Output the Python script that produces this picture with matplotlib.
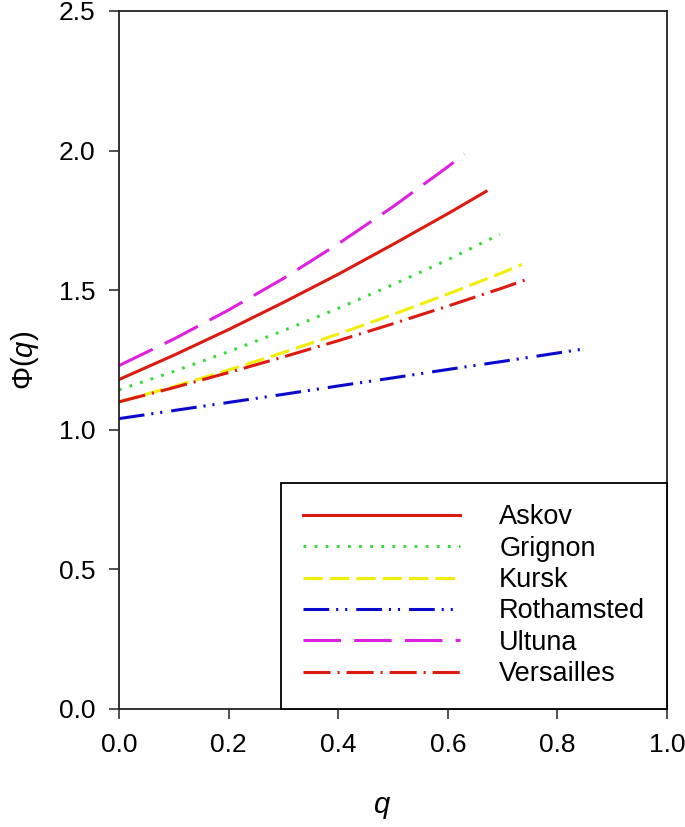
import matplotlib
matplotlib.use("Agg")
import matplotlib.pyplot as plt

plt.rcParams['font.family'] = ['Liberation Sans', 'DejaVu Sans']
plt.rcParams['mathtext.fontset'] = 'custom'
plt.rcParams['mathtext.rm'] = 'Liberation Sans'
plt.rcParams['mathtext.it'] = 'Liberation Sans:italic'
plt.rcParams['lines.scale_dashes'] = False

# --- data ---
q_askov = [0.0, 0.1, 0.2, 0.3, 0.4, 0.5, 0.6, 0.67]
phi_askov = [1.18, 1.267, 1.359, 1.456, 1.557, 1.664, 1.774, 1.854]

q_grignon = [0.0, 0.1, 0.2, 0.3, 0.4, 0.5, 0.6, 0.695]
phi_grignon = [1.143, 1.209, 1.280, 1.355, 1.435, 1.520, 1.609, 1.700]

q_kursk = [0.0, 0.1, 0.2, 0.3, 0.4, 0.5, 0.6, 0.7, 0.735]
phi_kursk = [1.10, 1.155, 1.214, 1.277, 1.343, 1.413, 1.486, 1.563, 1.592]

q_roth = [0.0, 0.1, 0.2, 0.3, 0.4, 0.5, 0.6, 0.7, 0.8, 0.85]
phi_roth = [1.04, 1.069, 1.098, 1.127, 1.157, 1.186, 1.216, 1.245, 1.275, 1.29]

q_ultuna = [0.0, 0.1, 0.2, 0.3, 0.4, 0.5, 0.6, 0.63]
phi_ultuna = [1.23, 1.325, 1.429, 1.542, 1.666, 1.799, 1.942, 1.988]

q_vers = [0.0, 0.1, 0.2, 0.3, 0.4, 0.5, 0.6, 0.7, 0.752]
phi_vers = [1.10, 1.151, 1.205, 1.261, 1.319, 1.380, 1.443, 1.508, 1.544]

xticks = [0.0, 0.2, 0.4, 0.6, 0.8, 1.0]
yticks = [0.0, 0.5, 1.0, 1.5, 2.0, 2.5]

fig = plt.figure(figsize=(6.85, 8.27), dpi=100)
ax = fig.add_axes([0.1737, 0.1427, 0.80, 0.844])

lw = 2.2
ax.plot(q_askov, phi_askov, color='#dc1a10', lw=lw, label='Askov')
ax.plot(q_grignon, phi_grignon, color='#3ad93a', lw=lw, dashes=(2, 6), label='Grignon')
ax.plot(q_kursk, phi_kursk, color='#f2ee0a', lw=lw, dashes=(14, 5), label='Kursk')
ax.plot(q_roth, phi_roth, color='#0a0acc', lw=lw,
        dashes=(18.5, 5, 1.5, 5, 1.5, 6.5), label='Rothamsted')
ax.plot(q_ultuna, phi_ultuna, color='#e020e0', lw=lw, dashes=(27, 9.5), label='Ultuna')
ax.plot(q_vers, phi_vers, color='#dc1a10', lw=lw, dashes=(19.5, 5, 1.5, 5), label='Versailles')

ax.set_xlim(0, 1.0)
ax.set_ylim(0, 2.5)
ax.set_xticks(xticks)
ax.set_yticks(yticks)
ax.set_xticklabels(['%.1f' % v for v in xticks])
ax.set_yticklabels(['%.1f' % v for v in yticks])
ax.tick_params(direction='out', length=7.2, width=1.1, labelsize=19, pad=10,
               color='#222222')
for sp in ax.spines.values():
    sp.set_linewidth(1.3)
    sp.set_color('#222222')

ax.set_xlabel(r'$q$', fontsize=21)
ax.xaxis.set_label_coords(0.48, -0.12)
ax.set_ylabel(r'$\Phi(q)$', fontsize=21)
ax.yaxis.set_label_coords(-0.142, 0.5)

leg = ax.legend(loc='lower right', bbox_to_anchor=(1.0, 0.0), borderaxespad=0,
                fontsize=19.5, handlelength=5.8, handletextpad=1.45,
                labelspacing=0.2, fancybox=False, edgecolor='black',
                borderpad=0.8, framealpha=1)
leg.get_frame().set_linewidth(1.3)

fig.savefig('out.png', dpi=100)
